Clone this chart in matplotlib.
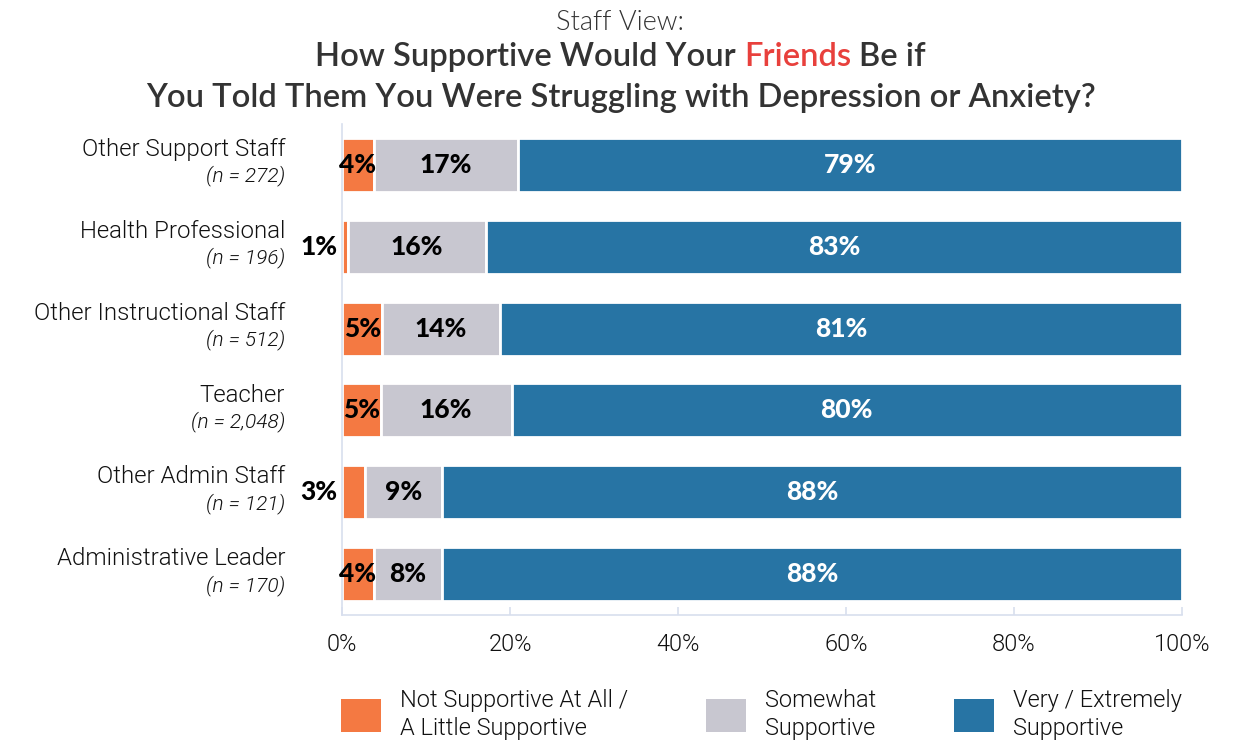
import matplotlib
matplotlib.use("Agg")
import matplotlib.pyplot as plt
from matplotlib.patches import Patch
import numpy as np

# ---- data ----
categories = ["Other Support Staff", "Health Professional", "Other Instructional Staff",
              "Teacher", "Other Admin Staff", "Administrative Leader"]
n_labels = ["(n = 272)", "(n = 196)", "(n = 512)", "(n = 2,048)", "(n = 121)", "(n = 170)"]
not_supportive = [3.8, 0.7, 4.8, 4.6, 2.7, 3.8]
somewhat = [17.2, 16.4, 14.0, 15.6, 9.2, 8.1]
very = [79.0, 82.9, 81.2, 79.8, 88.1, 88.1]
label_not = ["4%", "1%", "5%", "5%", "3%", "4%"]
label_some = ["17%", "16%", "14%", "16%", "9%", "8%"]
label_very = ["79%", "83%", "81%", "80%", "88%", "88%"]
series_names = ["Not Supportive At All /\nA Little Supportive", "Somewhat\nSupportive",
                "Very / Extremely\nSupportive"]
xticks = [0, 20, 40, 60, 80, 100]
xtick_labels = ["0%", "20%", "40%", "60%", "80%", "100%"]

C_ORANGE = "#F47942"
C_GRAY = "#C8C7D0"
C_BLUE = "#2774A4"
C_RED = "#E8403C"
C_DARK = "#333333"
C_TXT = "#111111"
C_AXIS = "#D8DFEE"
LIGHT = 300

W, H = 1241, 744
fig = plt.figure(figsize=(W / 100, H / 100), dpi=100)
ax = fig.add_axes([342 / W, 1 - 615 / H, 840 / W, 491 / H])

y = np.arange(len(categories))
bh = 0.66
left2 = np.array(not_supportive)
left3 = left2 + np.array(somewhat)
ax.barh(y, not_supportive, height=bh, color=C_ORANGE, edgecolor="white", linewidth=2)
ax.barh(y, somewhat, left=left2, height=bh, color=C_GRAY, edgecolor="white", linewidth=2)
ax.barh(y, very, left=left3, height=bh, color=C_BLUE, edgecolor="white", linewidth=2)

ax.set_xlim(0, 100)
ax.set_ylim(len(categories) - 0.5, -0.5)

numfont = dict(family="Lato", fontweight="black", fontsize=19)
for i in range(len(categories)):
    v = not_supportive[i]
    if v >= 3.5:
        ax.text(v / 2, y[i], label_not[i], ha="center", va="center", color="black", **numfont)
    else:
        ax.annotate(label_not[i], xy=(0, y[i]), xytext=(-3, 0), textcoords="offset points",
                    ha="right", va="center", color="black", **numfont)
    ax.text(left2[i] + somewhat[i] / 2, y[i], label_some[i], ha="center", va="center",
            color="black", **numfont)
    ax.text(left3[i] + very[i] / 2, y[i], label_very[i], ha="center", va="center",
            color="white", **numfont)
    ax.annotate(categories[i], xy=(0, y[i]), xycoords=("axes fraction", "data"),
                xytext=(-41, 11), textcoords="offset points", ha="right", va="center",
                family="Roboto", fontweight=LIGHT, fontsize=17.3, color=C_TXT)
    ax.annotate(n_labels[i], xy=(0, y[i]), xycoords=("axes fraction", "data"),
                xytext=(-41, -8), textcoords="offset points", ha="right", va="center",
                family="Roboto", fontweight=LIGHT, fontstyle="italic", fontsize=15,
                color=C_TXT)

for s in ["top", "right"]:
    ax.spines[s].set_visible(False)
for s in ["left", "bottom"]:
    ax.spines[s].set_color(C_AXIS)
    ax.spines[s].set_linewidth(1.2)
ax.set_yticks([])
ax.set_xticks(xticks)
ax.set_xticklabels(xtick_labels, family="Roboto", fontweight=LIGHT, fontsize=17, color=C_TXT)
ax.tick_params(axis="x", direction="in", length=6, width=1.2, color=C_AXIS, pad=13)

# legend
handles = [Patch(facecolor=c, edgecolor="none") for c in (C_ORANGE, C_GRAY, C_BLUE)]
leg = fig.legend(handles, series_names, loc="upper left", bbox_to_anchor=(341 / W, 1 - 689 / H),
                 ncol=3, frameon=False, handlelength=1.68, handleheight=1.8, handletextpad=0.82,
                 columnspacing=3.3, borderaxespad=0, borderpad=0,
                 prop=dict(family="Roboto", weight=LIGHT, size=17))
for t in leg.get_texts():
    t.set_color(C_TXT)
    t.set_linespacing(1.25)

# titles
fig.text(0.5, 1 - 22 / H, "Staff View:", ha="center", va="center", family="Lato",
         fontweight=LIGHT, fontsize=19.5, color=C_DARK)
tkw = dict(family="Lato", fontweight="semibold", fontsize=23.6, va="center")
fig.canvas.draw()
r = fig.canvas.get_renderer()

def tw(s):
    t = fig.text(0, 0, s, **tkw)
    w = t.get_window_extent(r).width
    t.remove()
    return w

partA, partB, partC = "How Supportive Would Your", "Friends", "Be if"
full = partA + " " + partB + " " + partC
wf = tw(full)
x0 = W / 2 - wf / 2
yl1 = 1 - 57 / H
fig.text(x0 / W, yl1, partA, ha="left", color=C_DARK, **tkw)
xb = x0 + tw(partA + " " + partB) - tw(partB)
fig.text(xb / W, yl1, partB, ha="left", color=C_RED, **tkw)
fig.text((x0 + wf) / W, yl1, partC, ha="right", color=C_DARK, **tkw)
fig.text(0.5, 1 - 98 / H, "You Told Them You Were Struggling with Depression or Anxiety?",
         ha="center", color=C_DARK, **tkw)

fig.savefig("out.png", dpi=100)
